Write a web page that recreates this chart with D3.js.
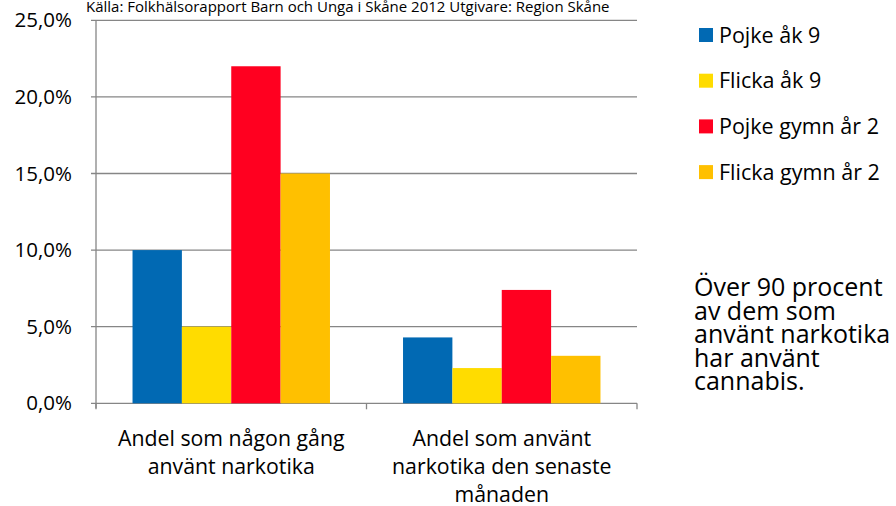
<!DOCTYPE html>
<html><head><meta charset="utf-8">
<script src="https://cdn.jsdelivr.net/npm/d3@7"></script>
<style>body{margin:0;background:#fff}svg{display:block}text{font-family:"Open Sans","Noto Sans",sans-serif;fill:#000}</style>
</head><body><svg id="c" width="896" height="506"></svg>
<script>
const categories = [["Andel som någon gång","använt narkotika"],["Andel som använt","narkotika den senaste","månaden"]];
const series = ["Pojke åk 9","Flicka åk 9","Pojke gymn år 2","Flicka gymn år 2"];
const colors = ["#0169B3","#FFDC00","#FF0020","#FFC000"];
const values = [[10.0,4.3],[5.0,2.3],[22.0,7.4],[15.0,3.1]];
const yTicks = [0,5,10,15,20,25];
const source = "Källa: Folkhälsorapport Barn och Unga i Skåne 2012 Utgivare: Region Skåne";
const note = ["Över 90 procent","av dem som","använt narkotika","har använt","cannabis."];

const svg = d3.select("#c");
const L=96,R=637,T=20.3,B=403.3;
const y = d3.scaleLinear().domain([0,25]).range([B,T]);
const x0 = d3.scaleBand().domain(d3.range(categories.length)).range([L,R]).padding(0);
const x1 = d3.scaleBand().domain(d3.range(series.length)).range([0,x0.bandwidth()]).paddingInner(0).paddingOuter(0.74);
const fmt = v => d3.format(".1f")(v).replace(".",",")+"%";

svg.append("g").selectAll("line").data(yTicks).join("line")
  .attr("x1",L-5).attr("x2",R).attr("y1",d=>y(d)).attr("y2",d=>y(d))
  .attr("stroke","#868686").attr("stroke-width",1.3);
svg.append("line").attr("x1",L).attr("x2",L).attr("y1",T).attr("y2",B+5).attr("stroke","#868686").attr("stroke-width",1.3);
svg.append("g").selectAll("text").data(yTicks).join("text")
  .attr("x",72).attr("y",d=>y(d)).attr("dy","0.35em").attr("text-anchor","end")
  .style("font-size","20.5px").text(fmt);
svg.append("g").selectAll("line").data([0,1,2]).join("line")
  .attr("x1",d=>L+d*x0.step()).attr("x2",d=>L+d*x0.step()).attr("y1",B).attr("y2",B+6)
  .attr("stroke","#868686").attr("stroke-width",1.3);

const g = svg.append("g");
series.forEach((s,i)=>{
  g.selectAll(null).data(values[i]).join("rect")
    .attr("x",(d,j)=>x0(j)+x1(i)).attr("width",x1.bandwidth())
    .attr("y",d=>y(d)).attr("height",d=>B-y(d)).attr("fill",colors[i]);
});

categories.forEach((lines,j)=>{
  const t = svg.append("text").attr("text-anchor","middle").style("font-size","21.3px");
  lines.forEach((ln,k)=>t.append("tspan").attr("x",x0(j)+x0.bandwidth()/2).attr("y",446+k*28).text(ln));
});

svg.append("text").attr("x",86).attr("y",12).style("font-size","15px").text(source);

series.forEach((s,i)=>{
  const cy = 35+i*45.7;
  svg.append("rect").attr("x",699).attr("y",cy-7).attr("width",14).attr("height",14).attr("fill",colors[i]);
  svg.append("text").attr("x",719).attr("y",cy).attr("dy","0.35em").style("font-size","21.5px").text(s);
});

const nt = svg.append("text").style("font-size","25px");
note.forEach((ln,k)=>nt.append("tspan").attr("x",694).attr("y",296+k*23.5).text(ln));
</script></body></html>
